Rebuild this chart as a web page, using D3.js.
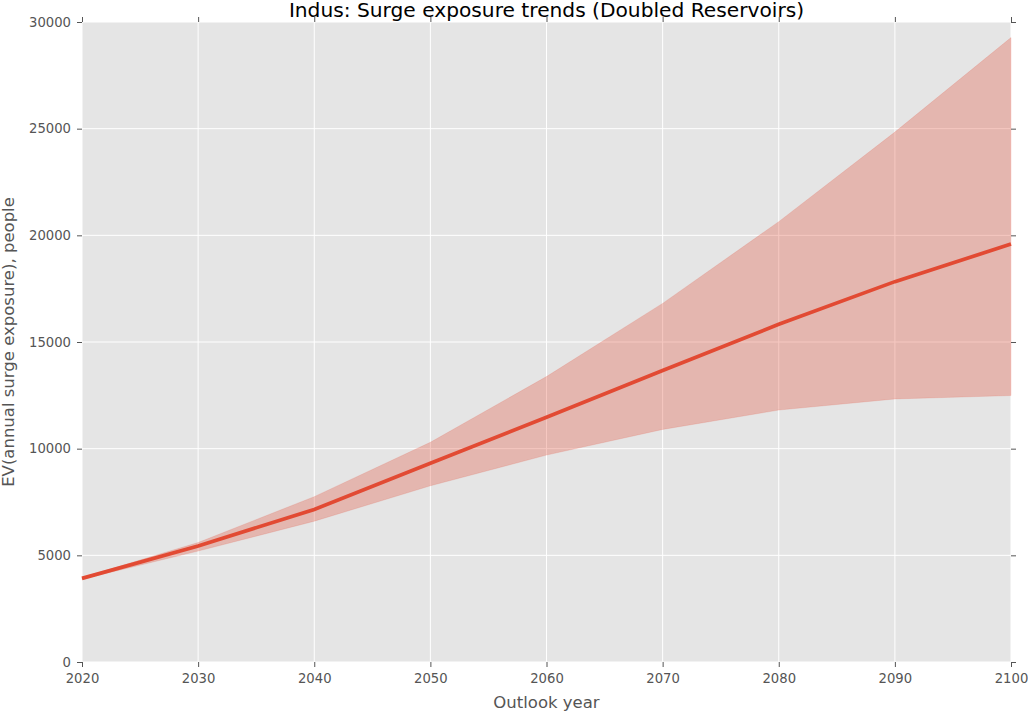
<!DOCTYPE html>
<html><head><meta charset="utf-8">
<script src="https://cdn.jsdelivr.net/npm/d3@7"></script>
<style>body{margin:0;background:#fff;}svg{display:block;font-family:"DejaVu Sans",sans-serif;}</style>
</head><body>
<svg id="chart" width="1028" height="712"></svg>
<script>
const years = [2020, 2030, 2040, 2050, 2060, 2070, 2080, 2090, 2100];
const meanValues = [3920, 5440, 7150, 9320, 11470, 13660, 15830, 17830, 19590];
const upperValues = [3960, 5600, 7750, 10300, 13380, 16810, 20640, 24840, 29270];
const lowerValues = [3880, 5200, 6600, 8260, 9700, 10900, 11810, 12330, 12490];
const xTicks = [2020, 2030, 2040, 2050, 2060, 2070, 2080, 2090, 2100];
const yTicks = [0, 5000, 10000, 15000, 20000, 25000, 30000];

const data = years.map((y, i) => ({year: y, mean: meanValues[i], lo: lowerValues[i], hi: upperValues[i]}));
const svg = d3.select("#chart");
const L = 82, R = 1011, T = 22, B = 662;
const x = d3.scaleLinear().domain([2020, 2100]).range([L, R]);
const y = d3.scaleLinear().domain([0, 30000]).range([B, T]);

svg.append("rect").attr("x", L).attr("y", T).attr("width", R - L).attr("height", B - T).attr("fill", "#E5E5E5");

const g = svg.append("g");
g.selectAll(".gx").data(xTicks).join("line")
  .attr("x1", d => x(d)).attr("x2", d => x(d)).attr("y1", T).attr("y2", B)
  .attr("stroke", "#fff").attr("stroke-width", 1);
g.selectAll(".gy").data(yTicks).join("line")
  .attr("y1", d => y(d)).attr("y2", d => y(d)).attr("x1", L).attr("x2", R)
  .attr("stroke", "#fff").attr("stroke-width", 1);

const area = d3.area().x(d => x(d.year)).y0(d => y(d.lo)).y1(d => y(d.hi));
svg.append("path").datum(data).attr("d", area)
  .attr("fill", "#E24A33").attr("fill-opacity", 0.3).attr("stroke", "#E24A33").attr("stroke-opacity", 0.15);

const line = d3.line().x(d => x(d.year)).y(d => y(d.mean));
svg.append("path").datum(data).attr("d", line)
  .attr("fill", "none").attr("stroke", "#E24A33").attr("stroke-width", 3.7);

function styleAxis(sel) {
  sel.select(".domain").remove();
  sel.selectAll(".tick line").attr("stroke", "#555");
  sel.selectAll(".tick text").attr("fill", "#555").style("font-size", "13.2px").style("font-family", "DejaVu Sans");
}
svg.append("g").attr("transform", `translate(0,${B})`)
  .call(d3.axisBottom(x).tickValues(xTicks).tickFormat(d3.format("d")).tickSize(5).tickPadding(7)).call(styleAxis);
svg.append("g").attr("transform", `translate(0,${T})`)
  .call(d3.axisTop(x).tickValues(xTicks).tickFormat("").tickSize(5)).call(styleAxis);
svg.append("g").attr("transform", `translate(${L},0)`)
  .call(d3.axisLeft(y).tickValues(yTicks).tickFormat(d3.format("d")).tickSize(5).tickPadding(6)).call(styleAxis);
svg.append("g").attr("transform", `translate(${R},0)`)
  .call(d3.axisRight(y).tickValues(yTicks).tickFormat("").tickSize(5)).call(styleAxis);

svg.append("text").attr("x", (L + R) / 2).attr("y", 16.5).attr("text-anchor", "middle")
  .style("font-size", "20.2px").attr("fill", "#000").text("Indus: Surge exposure trends (Doubled Reservoirs)");
svg.append("text").attr("x", (L + R) / 2).attr("y", 708).attr("text-anchor", "middle")
  .style("font-size", "16.5px").attr("fill", "#555").text("Outlook year");
svg.append("text").attr("transform", `translate(14,${(T + B) / 2}) rotate(-90)`).attr("text-anchor", "middle")
  .style("font-size", "16.5px").attr("fill", "#555").text("EV(annual surge exposure), people");
</script>
</body></html>
